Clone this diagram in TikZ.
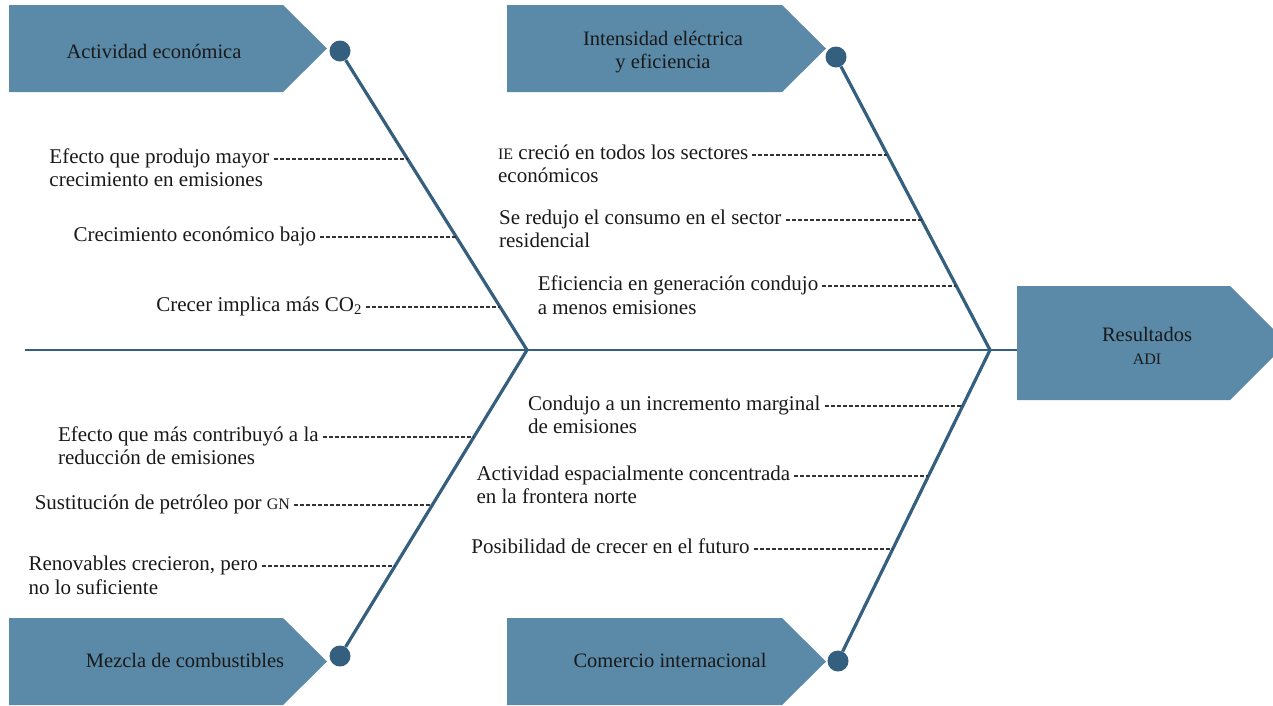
\documentclass[tikz,border=0pt]{standalone}
\usepackage{fontspec}
\setmainfont{Liberation Serif}
\usetikzlibrary{calc}
\definecolor{boxblue}{HTML}{5A8AA7}
\definecolor{bonecol}{HTML}{355F7E}
\definecolor{ribcol}{HTML}{333333}
\newcommand{\smc}[1]{{\fontsize{16}{16}\selectfont #1}}
\tikzset{
  box/.style={fill=boxblue},
  bone/.style={bonecol, line width=3.2pt},
  dot/.style={circle, fill=bonecol, minimum size=21pt, inner sep=0pt},
  rib/.style={ribcol, line width=1.5pt, dash pattern=on 4pt off 2pt},
  lbl/.style={font=\fontsize{21}{23.5}\selectfont, text=black!90, align=left,
    anchor=base east, inner xsep=4pt, inner ysep=0pt},
  lbltwo/.style={lbl, yshift=-23.5pt},
  title/.style={font=\fontsize{20.5}{23}\selectfont, text=black!90, align=center, inner sep=0pt}
}
\begin{document}
\begin{tikzpicture}[x=1pt,y=-1pt]
  \useasboundingbox (0,0) rectangle (1273,705);
  % arrow boxes
  \fill[box] (9,5) -- (283,5) -- (327,48.5) -- (283,92) -- (9,92) -- cycle;
  \fill[box] (507,5) -- (782,5) -- (826,48.5) -- (782,92) -- (507,92) -- cycle;
  \fill[box] (9,618) -- (283,618) -- (327,661.5) -- (283,705) -- (9,705) -- cycle;
  \fill[box] (507,618) -- (782,618) -- (826,661.5) -- (782,705) -- (507,705) -- cycle;
  \fill[box] (1017,286) -- (1230,286) -- (1287,343) -- (1230,400) -- (1017,400) -- cycle;
  \node[title] (actividad) at (154,51) {Actividad económica};
  \node[title] (intensidad) at (663,52) {Intensidad eléctrica\\y eficiencia};
  \node[title] (mezcla) at (185,660) {Mezcla de combustibles};
  \node[title] (comercio) at (670,660) {Comercio internacional};
  \node[title] (resultados) at (1147,346) {Resultados\\\smc{ADI}};
  % spine and bones
  \coordinate (tail) at (25,350);
  \coordinate (jointA) at (527,350);
  \coordinate (jointB) at (990,350);
  \coordinate (head) at (1017,350);
  \draw[bonecol, line width=2pt] (tail) -- (head);
  \node[dot] (dotA) at (340,51) {};
  \node[dot] (dotB) at (836,57) {};
  \node[dot] (dotC) at (340,656) {};
  \node[dot] (dotD) at (838,661) {};
  \draw[bone] (dotA) -- (jointA) -- (dotC);
  \draw[bone] (dotB) -- (jointB) -- (dotD);
  % ribs
  \foreach \n/\from/\to/\t/\l in {tl1/dotA/jointA/0.361/134, tl2/dotA/jointA/0.622/136,
      tl3/dotA/jointA/0.856/134, tr1/dotB/jointB/0.334/135, tr2/dotB/jointB/0.556/136,
      tr3/dotB/jointB/0.782/134, bl1/jointA/dotC/0.284/151, bl2/jointA/dotC/0.507/138,
      bl3/jointA/dotC/0.706/133, br1/jointB/dotD/0.180/138, br2/jointB/dotD/0.405/134,
      br3/jointB/dotD/0.640/139}{
    \coordinate (r-\n) at ($(\from)!\t!(\to)$);
    \coordinate (s-\n) at ([xshift=-\l pt]r-\n);
    \draw[rib] (s-\n) -- (r-\n);
  }
  \node[lbltwo] (t-tl1) at ([yshift=-4.5pt]s-tl1) {Efecto que produjo mayor\\crecimiento en emisiones};
  \node[lbl] (t-tl2) at ([yshift=-4.5pt]s-tl2) {Crecimiento económico bajo};
  \node[lbl] (t-tl3) at ([yshift=-4.5pt]s-tl3) {Crecer implica más CO\textsubscript{2}};
  \node[lbltwo] (t-tr1) at ([yshift=-4.5pt]s-tr1) {\smc{IE} creció en todos los sectores\\económicos};
  \node[lbltwo] (t-tr2) at ([yshift=-4.5pt]s-tr2) {Se redujo el consumo en el sector\\residencial};
  \node[lbltwo] (t-tr3) at ([yshift=-4.5pt]s-tr3) {Eficiencia en generación condujo\\a menos emisiones};
  \node[lbltwo] (t-bl1) at ([yshift=-4.5pt]s-bl1) {Efecto que más contribuyó a la\\reducción de emisiones};
  \node[lbl] (t-bl2) at ([yshift=-4.5pt]s-bl2) {Sustitución de petróleo por \smc{GN}};
  \node[lbltwo] (t-bl3) at ([yshift=-4.5pt]s-bl3) {Renovables crecieron, pero\\no lo suficiente};
  \node[lbltwo] (t-br1) at ([yshift=-4.5pt]s-br1) {Condujo a un incremento marginal\\de emisiones};
  \node[lbltwo] (t-br2) at ([yshift=-4.5pt]s-br2) {Actividad espacialmente concentrada\\en la frontera norte};
  \node[lbl] (t-br3) at ([yshift=-4.5pt]s-br3) {Posibilidad de crecer en el futuro};
\end{tikzpicture}
\end{document}
